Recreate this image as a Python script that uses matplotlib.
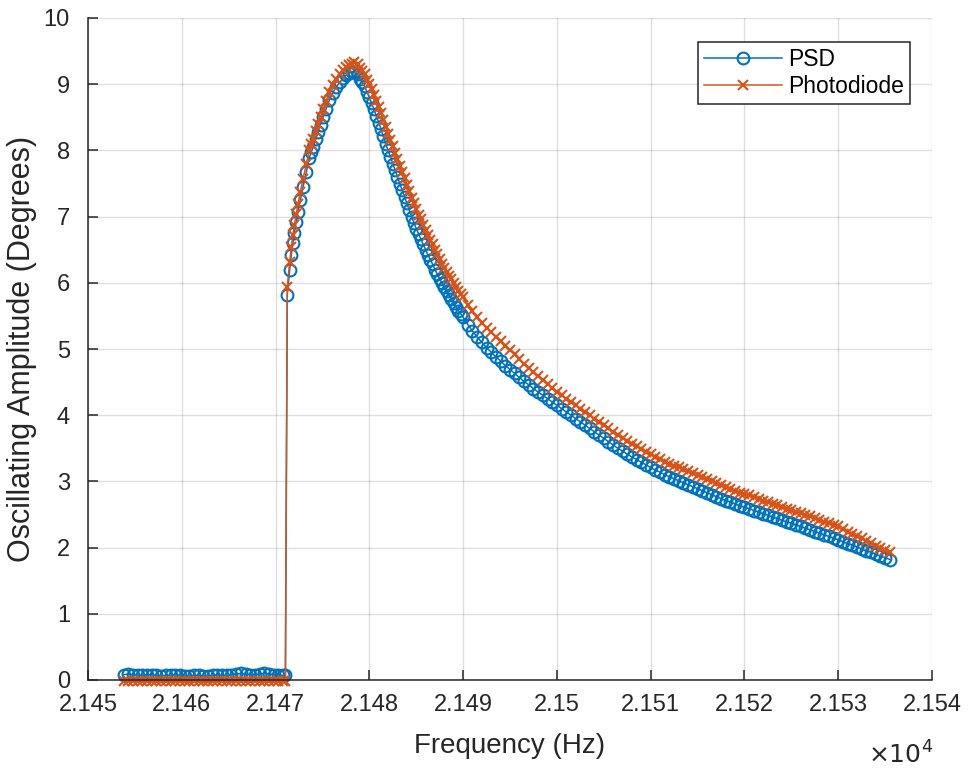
import numpy as np
import matplotlib
matplotlib.use('Agg')
import matplotlib.pyplot as plt

plt.rcParams['font.family'] = ['Liberation Sans', 'DejaVu Sans']

# varredura plana antes do salto
flat_freq = [21453.8, 21454.3, 21454.8, 21455.3, 21455.8, 21456.3, 21456.8, 21457.3, 21457.8, 21458.3,
             21458.8, 21459.3, 21459.8, 21460.3, 21460.8, 21461.3, 21461.8, 21462.3, 21462.8, 21463.3,
             21463.8, 21464.3, 21464.8, 21465.3, 21465.8, 21466.3, 21466.8, 21467.3, 21467.8, 21468.3,
             21468.8, 21469.3, 21469.8, 21470.3, 21470.8, 21471.05]
flat_psd = [0.08, 0.09, 0.08, 0.07, 0.07, 0.08, 0.08, 0.07, 0.06, 0.07,
            0.07, 0.08, 0.07, 0.06, 0.06, 0.07, 0.07, 0.06, 0.06, 0.07,
            0.08, 0.07, 0.07, 0.08, 0.09, 0.10, 0.09, 0.08, 0.08, 0.09,
            0.10, 0.09, 0.08, 0.08, 0.07, 0.08]
flat_pd = [-0.01, -0.02, -0.01, -0.01, -0.02, -0.02, -0.01, -0.01, -0.02, -0.01,
           -0.01, -0.02, -0.02, -0.01, -0.01, -0.02, -0.01, -0.01, -0.02, -0.01,
           -0.01, -0.01, -0.02, -0.01, -0.01, -0.02, -0.01, -0.01, -0.02, -0.01,
           -0.01, -0.02, -0.01, -0.01, -0.02, -0.01]

# subida ate o pico
rise_freq = [21471.25, 21471.5, 21471.68, 21471.86, 21472.0, 21472.21, 21472.39, 21472.64, 21472.93,
             21473.28, 21473.6, 21473.8, 21474.0, 21474.27, 21474.53, 21474.8, 21475.07, 21475.4,
             21475.74, 21476.1, 21476.49, 21476.85, 21477.21, 21477.55, 21477.88, 21478.1]
rise_psd = [5.82, 6.19, 6.42, 6.60, 6.75, 6.92, 7.07, 7.25, 7.45, 7.67, 7.89, 7.97, 8.05,
            8.17, 8.28, 8.39, 8.50, 8.63, 8.76, 8.87, 8.96, 9.03, 9.09, 9.14, 9.17, 9.18]
rise_pd = [5.94, 6.31, 6.54, 6.72, 6.87, 7.04, 7.19, 7.37, 7.57, 7.79, 8.01, 8.09, 8.17,
           8.29, 8.40, 8.51, 8.62, 8.75, 8.88, 8.99, 9.08, 9.15, 9.21, 9.26, 9.29, 9.31]

# descida (passo fino)
fall_freq = [21478.4, 21478.75, 21479.0, 21479.25, 21479.5, 21479.75, 21480.0, 21480.25, 21480.5, 21480.75,
             21481.0, 21481.25, 21481.5, 21481.75, 21482.0, 21482.25, 21482.5, 21482.75, 21483.0, 21483.25,
             21483.5, 21483.75, 21484.0, 21484.25, 21484.5, 21484.75, 21485.0, 21485.25, 21485.5, 21485.75,
             21486.0, 21486.25, 21486.5, 21486.75, 21487.0, 21487.25, 21487.5, 21487.75, 21488.0, 21488.25,
             21488.5, 21488.75, 21489.0, 21489.25, 21489.5, 21489.75, 21490.0]
fall_psd = [9.19, 9.15, 9.08, 9.03, 8.97, 8.88, 8.80, 8.71, 8.62, 8.52,
            8.42, 8.32, 8.21, 8.10, 8.00, 7.90, 7.80, 7.70, 7.60, 7.50,
            7.40, 7.30, 7.20, 7.10, 7.00, 6.91, 6.82, 6.74, 6.66, 6.58,
            6.50, 6.42, 6.35, 6.28, 6.20, 6.13, 6.06, 5.99, 5.93, 5.87,
            5.81, 5.75, 5.69, 5.64, 5.58, 5.53, 5.48]
fall_pd = [9.33, 9.30, 9.24, 9.20, 9.15, 9.07, 9.00, 8.92, 8.84, 8.75,
           8.66, 8.57, 8.46, 8.35, 8.25, 8.16, 8.06, 7.96, 7.87, 7.77,
           7.67, 7.58, 7.48, 7.38, 7.28, 7.20, 7.11, 7.03, 6.96, 6.88,
           6.80, 6.72, 6.65, 6.58, 6.50, 6.43, 6.36, 6.29, 6.23, 6.17,
           6.11, 6.05, 5.99, 5.94, 5.88, 5.83, 5.78]

# cauda
tail_freq = [21490.5, 21491.0, 21491.5, 21492.0, 21492.5, 21493.0, 21493.5, 21494.0, 21494.5, 21495.0,
             21495.5, 21496.0, 21496.5, 21497.0, 21497.5, 21498.0, 21498.5, 21499.0, 21499.5, 21500.0,
             21500.5, 21501.0, 21501.5, 21502.0, 21502.5, 21503.0, 21503.5, 21504.0, 21504.5, 21505.0,
             21505.5, 21506.0, 21506.5, 21507.0, 21507.5, 21508.0, 21508.5, 21509.0, 21509.5, 21510.0,
             21510.5, 21511.0, 21511.5, 21512.0, 21512.5, 21513.0, 21513.5, 21514.0, 21514.5, 21515.0,
             21515.5, 21516.0, 21516.5, 21517.0, 21517.5, 21518.0, 21518.5, 21519.0, 21519.5, 21520.0,
             21520.5, 21521.0, 21521.5, 21522.0, 21522.5, 21523.0, 21523.5, 21524.0, 21524.5, 21525.0,
             21525.5, 21526.0, 21526.5, 21527.0, 21527.5, 21528.0, 21528.5, 21529.0, 21529.5, 21530.0,
             21530.5, 21531.0, 21531.5, 21532.0, 21532.5, 21533.0, 21533.5, 21534.0, 21534.5, 21535.0,
             21535.5]
tail_psd = [5.37, 5.27, 5.18, 5.10, 5.02, 4.95, 4.88, 4.82, 4.75, 4.69,
            4.63, 4.57, 4.51, 4.46, 4.40, 4.35, 4.30, 4.25, 4.20, 4.15,
            4.10, 4.05, 4.00, 3.95, 3.90, 3.85, 3.80, 3.75, 3.70, 3.65,
            3.60, 3.55, 3.50, 3.46, 3.41, 3.37, 3.33, 3.29, 3.25, 3.21,
            3.17, 3.14, 3.10, 3.07, 3.04, 3.01, 2.98, 2.95, 2.92, 2.89,
            2.86, 2.83, 2.80, 2.77, 2.74, 2.71, 2.69, 2.66, 2.63, 2.61,
            2.59, 2.56, 2.54, 2.51, 2.49, 2.46, 2.44, 2.41, 2.39, 2.37,
            2.34, 2.32, 2.29, 2.27, 2.24, 2.22, 2.19, 2.17, 2.14, 2.12,
            2.09, 2.06, 2.04, 2.01, 1.98, 1.95, 1.93, 1.90, 1.87, 1.85,
            1.82]
tail_pd = [5.67, 5.57, 5.48, 5.40, 5.32, 5.25, 5.18, 5.12, 5.05, 4.99,
           4.92, 4.85, 4.78, 4.72, 4.65, 4.59, 4.53, 4.47, 4.41, 4.35,
           4.30, 4.25, 4.20, 4.15, 4.10, 4.05, 4.00, 3.95, 3.90, 3.85,
           3.80, 3.75, 3.70, 3.66, 3.61, 3.57, 3.53, 3.49, 3.45, 3.41,
           3.37, 3.34, 3.30, 3.27, 3.24, 3.21, 3.18, 3.15, 3.12, 3.09,
           3.06, 3.03, 3.00, 2.97, 2.94, 2.91, 2.89, 2.86, 2.83, 2.81,
           2.79, 2.76, 2.74, 2.71, 2.69, 2.66, 2.64, 2.61, 2.59, 2.57,
           2.54, 2.52, 2.49, 2.47, 2.44, 2.42, 2.39, 2.37, 2.34, 2.32,
           2.28, 2.24, 2.21, 2.17, 2.14, 2.10, 2.07, 2.03, 2.00, 1.97,
           1.94]

x_ticks = [21450, 21460, 21470, 21480, 21490, 21500, 21510, 21520, 21530, 21540]
x_labels = ['2.145', '2.146', '2.147', '2.148', '2.149', '2.15', '2.151', '2.152', '2.153', '2.154']
y_ticks = [0, 1, 2, 3, 4, 5, 6, 7, 8, 9, 10]

freq = np.array(flat_freq + rise_freq + fall_freq + tail_freq)
psd = np.array(flat_psd + rise_psd + fall_psd + tail_psd)
pd_ = np.array(flat_pd + rise_pd + fall_pd + tail_pd)

azul = '#0072BD'
laranja = '#D95319'
cinza = '#262626'

fig = plt.figure(figsize=(9.69, 7.68), dpi=100)
ax = fig.add_axes([88/969, 1 - 680/768, (932 - 88)/969, (680 - 18)/768])

ax.plot(freq, psd, '-o', color=azul, mfc='none', ms=8.5, mew=1.5, lw=1.1, label='PSD', clip_on=False)
ax.plot(freq, pd_, '-x', color=laranja, ms=7, mew=1.5, lw=1.1, label='Photodiode', clip_on=False)

ax.set_xlim(21450, 21540)
ax.set_ylim(0, 10)
ax.set_xticks(x_ticks)
ax.set_xticklabels(x_labels)
ax.set_yticks(y_ticks)

ax.grid(True, color=cinza, alpha=0.15, lw=1.0)
ax.set_axisbelow(True)
for s in ['top', 'right']:
    ax.spines[s].set_visible(False)
for s in ['left', 'bottom']:
    ax.spines[s].set_color(cinza)
    ax.spines[s].set_linewidth(1.1)
ax.tick_params(direction='in', length=7, width=1.1, colors=cinza, labelsize=17)
ax.tick_params(axis='y', pad=13)
ax.tick_params(axis='x', pad=10)

ax.set_xlabel('Frequency (Hz)', fontsize=20, color=cinza, labelpad=12)
ax.set_ylabel('Oscillating Amplitude (Degrees)', fontsize=22, color=cinza, labelpad=5)

fig.text(933/969, 1 - 764/768, r'$\times10^{4}$', ha='right', va='baseline',
         fontsize=18, color=cinza)

leg = ax.legend(loc='upper right', bbox_to_anchor=(0.974, 0.964), borderaxespad=0,
                fontsize=16.5, handlelength=3.4, fancybox=False, framealpha=1,
                edgecolor=cinza, borderpad=0.25, labelspacing=0.2, handletextpad=0.3)
leg.get_frame().set_linewidth(1.1)

fig.savefig('out.png', dpi=100)
